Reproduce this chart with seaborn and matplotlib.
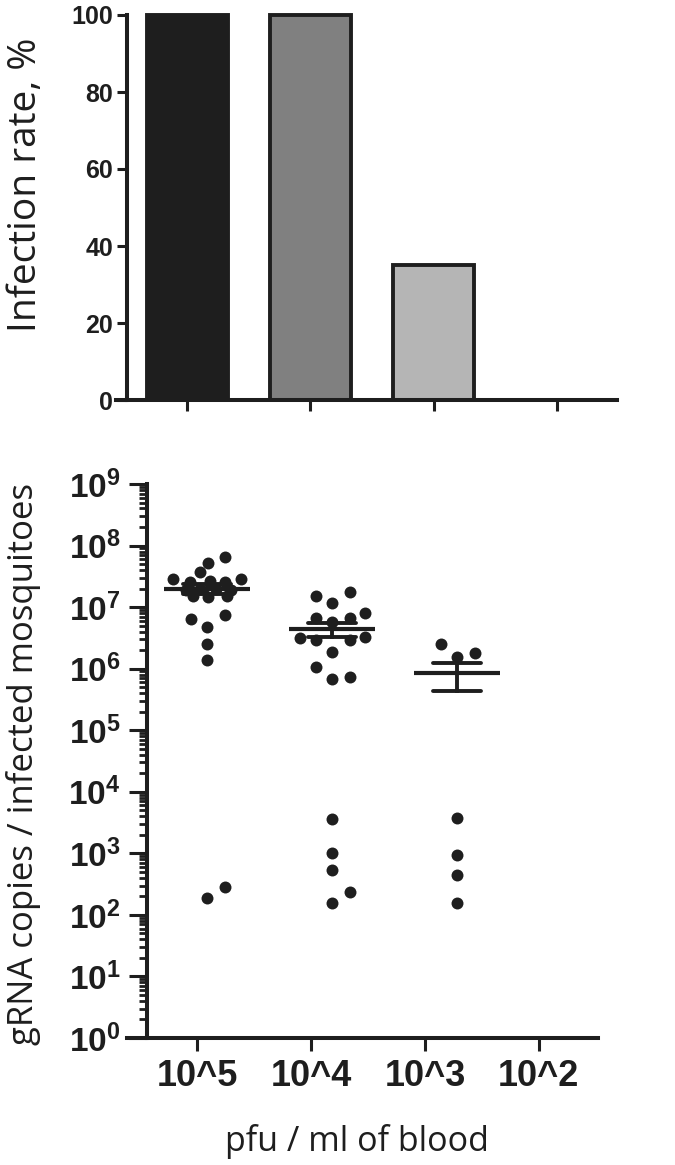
import numpy as np
import pandas as pd
import seaborn as sns
import matplotlib.pyplot as plt
from matplotlib.ticker import LogLocator, NullFormatter

# doses on the x axis
doses = ['10^5', '10^4', '10^3', '10^2']
infection_rate = [100, 100, 35, 0]
bar_colors = ['#1e1e1e', '#808080', '#b5b5b5', '#b5b5b5']

# gRNA copies / infected mosquito
copies_1e5 = [6.5e7, 5.2e7, 3.7e7, 2.9e7, 2.9e7, 2.6e7, 2.7e7, 2.6e7, 1.9e7, 2.0e7, 2.0e7,
              1.9e7, 1.5e7, 1.48e7, 1.5e7, 6.4e6, 7.4e6, 4.8e6, 2.5e6, 1.4e6, 186, 282]
spread_1e5 = [0.14, 0.01, -0.06, -0.27, 0.27, -0.14, 0.02, 0.14, -0.17, -0.06, 0.07,
              0.19, -0.11, 0.01, 0.16, -0.13, 0.14, 0.0, 0.0, 0.0, 0.0, 0.14]
copies_1e4 = [1.5e7, 1.17e7, 1.74e7, 7.9e6, 6.6e6, 6.6e6, 5.8e6, 3.2e6, 3.3e6, 2.95e6,
              2.95e6, 1.9e6, 1.05e6, 6.7e5, 7.4e5, 3.6e3, 1.02e3, 540, 235, 155]
spread_1e4 = [-0.13, 0.0, 0.14, 0.26, -0.13, 0.14, 0.0, -0.26, 0.26, -0.13,
              0.14, 0.0, -0.13, 0.0, 0.14, 0.0, 0.0, 0.0, 0.14, 0.0]
copies_1e3 = [2.5e6, 1.8e6, 1.57e6, 3.7e3, 955, 450, 158]
spread_1e3 = [-0.13, 0.14, 0.0, 0.0, 0.0, 0.0, 0.0]

y_exponents = list(range(0, 10))

INK = '#1e1e1e'

sns.set_style('ticks')
plt.rcParams['font.family'] = ['Liberation Sans', 'DejaVu Sans']
plt.rcParams['mathtext.fontset'] = 'custom'
plt.rcParams['mathtext.rm'] = 'Liberation Sans:bold'
plt.rcParams['mathtext.bf'] = 'Liberation Sans:bold'
plt.rcParams['mathtext.it'] = 'Liberation Sans:bold'

W, H = 675, 1165
fig = plt.figure(figsize=(W / 100, H / 100), dpi=100)
ax_top = fig.add_axes([127 / W, 1 - 400 / H, 490 / W, 385 / H])
ax_bot = fig.add_axes([147 / W, 1 - 1038 / H, 451 / W, 554 / H])

# ---- top: infection rate bars ----
sns.barplot(x=doses, y=infection_rate, hue=doses, palette=bar_colors, legend=False,
            saturation=1, width=0.66, edgecolor=INK, linewidth=2.8, ax=ax_top)
for p in ax_top.patches:
    p.set_clip_on(False)
ax_top.set_xlim(-0.49, 3.49)
ax_top.set_ylim(0, 100)
ax_top.set_yticks(range(0, 101, 20))
ax_top.tick_params(axis='y', length=7, width=2.2, color=INK, pad=3, labelsize=18)
ax_top.tick_params(axis='x', length=8, width=2.2, color=INK, labelbottom=False)
for lab in ax_top.get_yticklabels():
    lab.set_fontweight('bold')
    lab.set_color(INK)
for s in ['left', 'bottom']:
    ax_top.spines[s].set_linewidth(2.9)
    ax_top.spines[s].set_color(INK)
ax_top.spines['bottom'].set_bounds(-0.58, 3.49)
sns.despine(ax=ax_top)
ax_top.set_ylabel('Infection rate, %', family='Open Sans', fontsize=28, color=INK)
ax_top.yaxis.set_label_coords(-0.168, 0.56)

# ---- bottom: gRNA copies dot plot ----
df = pd.DataFrame({
    'dose': [doses[0]] * len(copies_1e5) + [doses[1]] * len(copies_1e4) + [doses[2]] * len(copies_1e3),
    'copies': copies_1e5 + copies_1e4 + copies_1e3,
    'spread': spread_1e5 + spread_1e4 + spread_1e3,
})
df['pos'] = df['dose'].map({d: i for i, d in enumerate(doses)}) + df['spread']

# dots + mean/SEM on an overlay axis (the dot columns sit a bit right of the ticks)
ov = ax_bot.twiny()
sns.scatterplot(data=df, x='pos', y='copies', color=INK, s=74, linewidth=0,
                legend=False, ax=ov, zorder=2)
sns.pointplot(data=df, x='dose', y='copies', order=doses[:3], estimator='mean',
              errorbar='se', color=INK, linestyle='none', marker='_', markersize=62,
              markeredgewidth=3, capsize=0.39, err_kws={'linewidth': 2.8}, ax=ov)
for ln in ov.lines:
    ln.set_zorder(3)
ov.set_xlim(-0.48, 3.128)
ov.axis('off')

ax_bot.set_yscale('log')
ax_bot.set_ylim(1, 1e9)
ax_bot.set_xlim(-0.44, 3.52)
ax_bot.set_xticks(range(len(doses)))
ax_bot.set_xticklabels(doses, fontsize=26, fontweight='bold', color=INK)
ax_bot.set_yticks([10.0 ** k for k in y_exponents])
ax_bot.set_yticklabels([r'$\mathbf{10^{%d}}$' % k for k in y_exponents], fontsize=24, color=INK)
ax_bot.yaxis.set_minor_locator(LogLocator(base=10, subs=np.arange(2, 10), numticks=20))
ax_bot.yaxis.set_minor_formatter(NullFormatter())
ax_bot.tick_params(axis='y', which='major', length=13, width=2.2, color=INK, pad=6)
ax_bot.tick_params(axis='y', which='minor', length=6, width=2.0, color=INK)
ax_bot.tick_params(axis='x', length=9, width=2.2, color=INK, pad=6)
for s in ['left', 'bottom']:
    ax_bot.spines[s].set_linewidth(2.9)
    ax_bot.spines[s].set_color(INK)
ax_bot.spines['bottom'].set_bounds(-0.615, 3.52)
sns.despine(ax=ax_bot)
ax_bot.set_ylabel('gRNA copies / infected mosquitoes', family='Open Sans', fontsize=25, color=INK)
ax_bot.yaxis.set_label_coords(-0.235, 0.495)
ax_bot.set_xlabel('pfu / ml of blood', family='Open Sans', fontsize=24.5, color=INK)
ax_bot.xaxis.set_label_coords(0.466, -0.155)

fig.savefig('out.png', dpi=100)
plt.close(fig)
